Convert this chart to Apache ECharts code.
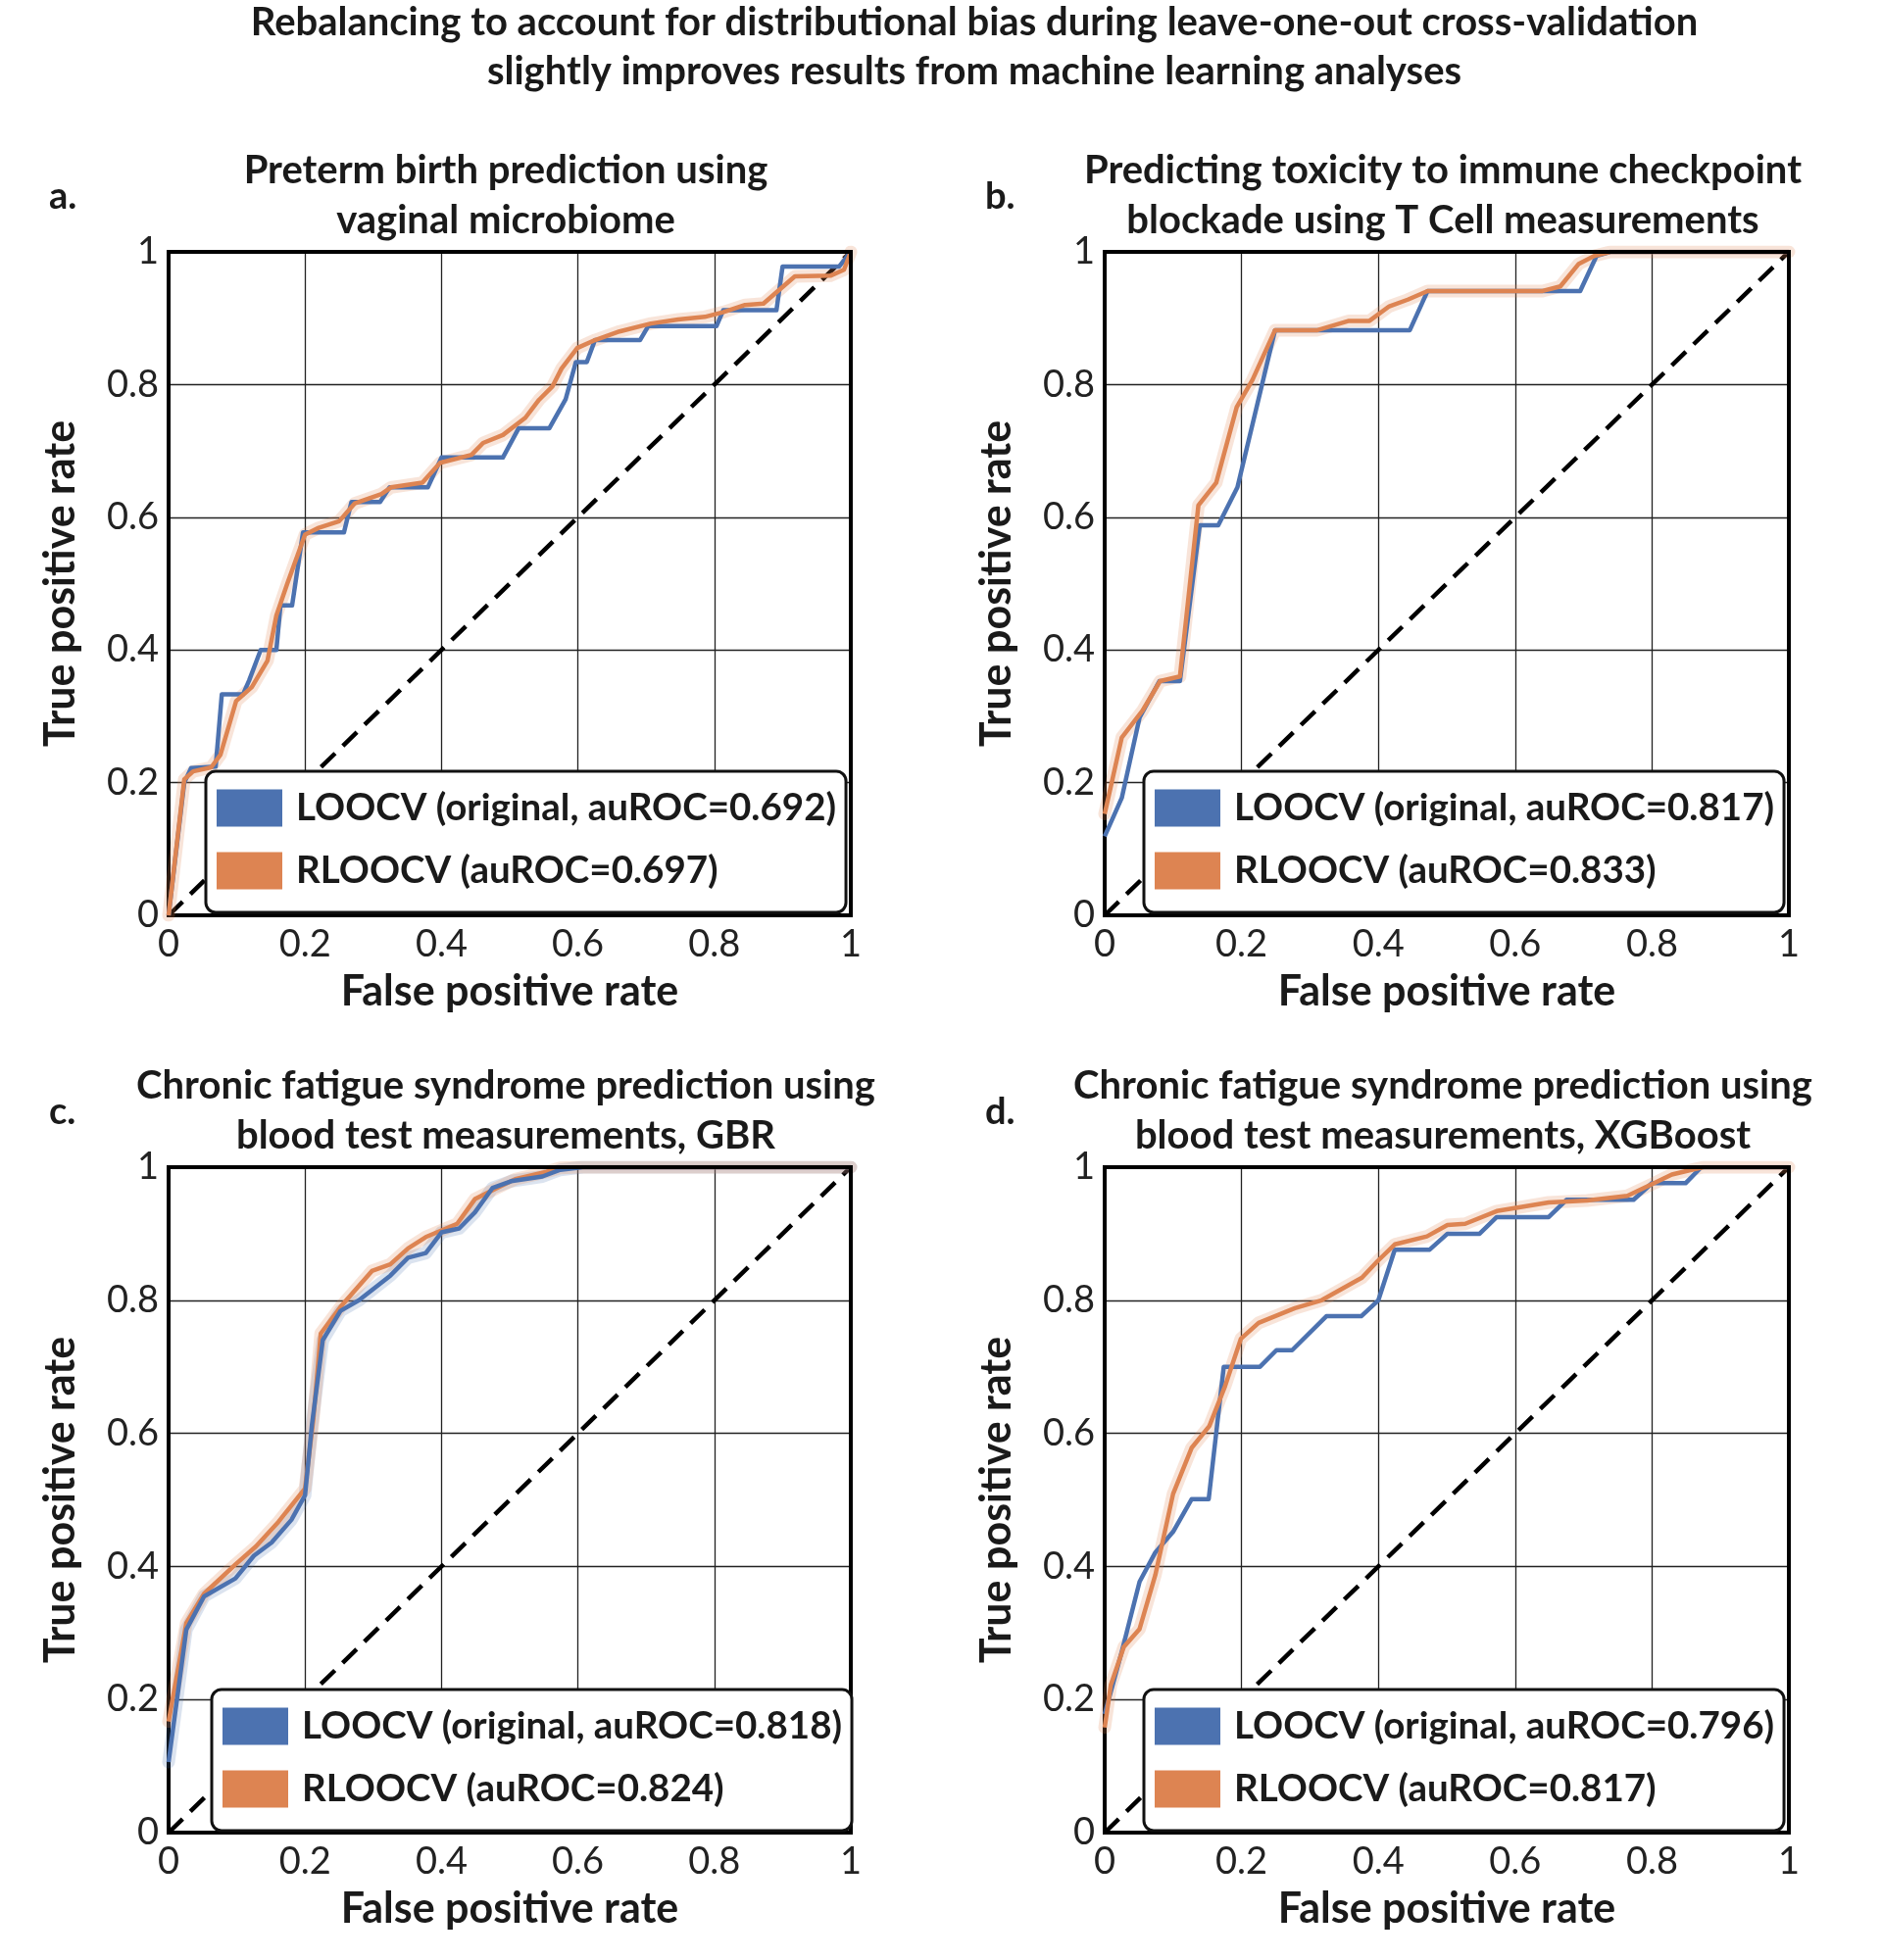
<!DOCTYPE html>
<html><head><meta charset="utf-8">
<script src="https://cdn.jsdelivr.net/npm/echarts/dist/echarts.min.js"></script>
<style>html,body{margin:0;padding:0;background:#fff}#c{width:1919px;height:2000px}</style>
</head><body><div id="c"></div>
<script>
// ---------- data ----------
const tickLabels = ['0', '0.2', '0.4', '0.6', '0.8', '1'];
const diagFpr = [0, 1];
const diagTpr = [0, 1];

const mainTitle = 'Rebalancing to account for distributional bias during leave-one-out cross-validation\nslightly improves results from machine learning analyses';
const panelLetters = ['a.', 'b.', 'c.', 'd.'];
const panelTitles = [
  'Preterm birth prediction using\nvaginal microbiome',
  'Predicting toxicity to immune checkpoint\nblockade using T Cell measurements',
  'Chronic fatigue syndrome prediction using\nblood test measurements, GBR',
  'Chronic fatigue syndrome prediction using\nblood test measurements, XGBoost'
];
const looNames = ['LOOCV (original, auROC=0.692)', 'LOOCV (original, auROC=0.817)', 'LOOCV (original, auROC=0.818)', 'LOOCV (original, auROC=0.796)'];
const rlooNames = ['RLOOCV (auROC=0.697)', 'RLOOCV (auROC=0.833)', 'RLOOCV (auROC=0.824)', 'RLOOCV (auROC=0.817)'];

// Panel a
const aLooFpr = [0, 0.023, 0.033, 0.069, 0.078, 0.109, 0.118, 0.135, 0.158, 0.164, 0.181, 0.197, 0.257, 0.268, 0.31, 0.324, 0.38, 0.4, 0.49, 0.513, 0.558, 0.582, 0.597, 0.613, 0.625, 0.691, 0.703, 0.803, 0.813, 0.891, 0.9, 0.983, 1];
const aLooTpr = [0, 0.2, 0.222, 0.224, 0.333, 0.333, 0.354, 0.4, 0.4, 0.467, 0.467, 0.577, 0.577, 0.623, 0.623, 0.645, 0.645, 0.69, 0.69, 0.734, 0.734, 0.778, 0.834, 0.834, 0.867, 0.867, 0.888, 0.888, 0.912, 0.912, 0.978, 0.978, 1];
const aRlooFpr = [0, 0.023, 0.036, 0.0625, 0.076, 0.099, 0.122, 0.145, 0.158, 0.174, 0.2, 0.22, 0.25, 0.273, 0.312, 0.326, 0.372, 0.398, 0.444, 0.461, 0.49, 0.523, 0.543, 0.5625, 0.576, 0.599, 0.625, 0.661, 0.707, 0.747, 0.786, 0.8125, 0.845, 0.872, 0.891, 0.918, 0.97, 0.99, 1];
const aRlooTpr = [0, 0.205, 0.217, 0.223, 0.242, 0.323, 0.344, 0.384, 0.452, 0.5, 0.574, 0.584, 0.594, 0.621, 0.635, 0.645, 0.652, 0.682, 0.694, 0.712, 0.724, 0.75, 0.777, 0.797, 0.824, 0.855, 0.867, 0.88, 0.892, 0.898, 0.902, 0.909, 0.92, 0.922, 0.939, 0.963, 0.964, 0.973, 1];

// Panel b
const bLooFpr = [0, 0.025, 0.051, 0.08, 0.11, 0.139, 0.166, 0.194, 0.249, 0.446, 0.472, 0.695, 0.719, 0.739, 1];
const bLooTpr = [0.119, 0.177, 0.298, 0.353, 0.353, 0.588, 0.588, 0.645, 0.882, 0.882, 0.941, 0.941, 0.994, 1, 1];
const bRlooFpr = [0, 0.025, 0.055, 0.081, 0.11, 0.137, 0.163, 0.193, 0.216, 0.249, 0.311, 0.357, 0.387, 0.416, 0.443, 0.472, 0.64, 0.666, 0.693, 0.716, 0.739, 1];
const bRlooTpr = [0.153, 0.268, 0.308, 0.353, 0.36, 0.618, 0.652, 0.766, 0.807, 0.882, 0.882, 0.896, 0.896, 0.918, 0.928, 0.941, 0.941, 0.948, 0.982, 0.994, 1, 1];

// Panel c
const cLooFpr = [0, 0.026, 0.052, 0.098, 0.125, 0.151, 0.18, 0.2, 0.21, 0.226, 0.252, 0.279, 0.325, 0.351, 0.377, 0.4, 0.426, 0.449, 0.475, 0.502, 0.548, 0.574, 0.607, 1];
const cLooTpr = [0.106, 0.305, 0.355, 0.382, 0.416, 0.436, 0.47, 0.507, 0.612, 0.74, 0.784, 0.8, 0.837, 0.864, 0.871, 0.902, 0.908, 0.932, 0.969, 0.979, 0.986, 0.996, 1, 1];
const cRlooFpr = [0, 0.026, 0.052, 0.098, 0.128, 0.161, 0.2, 0.212, 0.223, 0.252, 0.298, 0.325, 0.351, 0.377, 0.423, 0.449, 0.482, 0.508, 0.554, 0.574, 0.6, 1];
const cRlooTpr = [0.167, 0.315, 0.359, 0.403, 0.43, 0.467, 0.517, 0.62, 0.75, 0.79, 0.844, 0.854, 0.878, 0.895, 0.915, 0.952, 0.969, 0.982, 0.993, 0.999, 1, 1];

// Panel d
const dLooFpr = [0, 0.025, 0.051, 0.074, 0.1, 0.127, 0.152, 0.174, 0.227, 0.251, 0.274, 0.324, 0.375, 0.4, 0.424, 0.475, 0.501, 0.548, 0.573, 0.649, 0.675, 0.773, 0.8, 0.849, 0.872, 1];
const dLooTpr = [0.178, 0.272, 0.377, 0.421, 0.452, 0.501, 0.501, 0.7, 0.7, 0.725, 0.725, 0.776, 0.776, 0.8, 0.876, 0.876, 0.9, 0.9, 0.925, 0.925, 0.951, 0.951, 0.976, 0.976, 1, 1];
const dRlooFpr = [0, 0.009, 0.028, 0.051, 0.074, 0.1, 0.127, 0.153, 0.176, 0.199, 0.225, 0.278, 0.317, 0.376, 0.399, 0.424, 0.471, 0.501, 0.527, 0.573, 0.649, 0.705, 0.764, 0.803, 0.829, 0.862, 0.875, 1];
const dRlooTpr = [0.158, 0.222, 0.279, 0.306, 0.387, 0.509, 0.578, 0.611, 0.671, 0.742, 0.766, 0.788, 0.8, 0.834, 0.859, 0.884, 0.896, 0.913, 0.915, 0.934, 0.947, 0.95, 0.957, 0.976, 0.989, 0.997, 1, 1];

// ---------- layout / style ----------
const BLUE = '#4C72B0', ORANGE = '#DD8452';
const FONT = 'Lato';
const TXT = '#1a1a1a';
const layout = [
  {left: 172, top: 257, width: 696, height: 677, legendLeft: 210, legendTop: 787, blueBand: false, blueOnTop: false},
  {left: 1127, top: 257, width: 698, height: 677, legendLeft: 1167, legendTop: 787, blueBand: false, blueOnTop: false},
  {left: 172, top: 1191, width: 696, height: 679, legendLeft: 216, legendTop: 1724, blueBand: true, blueOnTop: true},
  {left: 1127, top: 1191, width: 698, height: 679, legendLeft: 1167, legendTop: 1724, blueBand: false, blueOnTop: false}
];
const panelData = [
  [aLooFpr, aLooTpr, aRlooFpr, aRlooTpr],
  [bLooFpr, bLooTpr, bRlooFpr, bRlooTpr],
  [cLooFpr, cLooTpr, cRlooFpr, cRlooTpr],
  [dLooFpr, dLooTpr, dRlooFpr, dRlooTpr]
];
const zip = (xs, ys) => xs.map((x, i) => [x, ys[i]]);

const grids = [], xAxes = [], yAxes = [], series = [], legends = [], graphics = [];

graphics.push({type: 'text', x: 994, y: 48, style: {text: mainTitle, font: 'bold 40px ' + FONT, fill: TXT, align: 'center', verticalAlign: 'middle', lineHeight: 50}});

layout.forEach((L, i) => {
  grids.push({left: L.left, top: L.top, width: L.width, height: L.height, show: false});
  const cx = L.left + L.width / 2;
  graphics.push({type: 'text', x: cx - 4, y: L.top - 57, style: {text: panelTitles[i], font: 'bold 40px ' + FONT, fill: TXT, align: 'center', verticalAlign: 'middle', lineHeight: 51}});
  graphics.push({type: 'text', x: L.left - 122, y: L.top - 56, style: {text: panelLetters[i], font: 'bold 38px ' + FONT, fill: TXT, align: 'left', verticalAlign: 'middle'}});

  const borderLine = {show: true, onZero: false, lineStyle: {color: '#000', width: 4, cap: 'square'}};
  xAxes.push({
    gridIndex: i, type: 'value', min: 0, max: 1, interval: 0.2, position: 'bottom',
    axisLine: borderLine, axisTick: {show: false},
    splitLine: {show: true, lineStyle: {color: '#222', width: 1.3}},
    axisLabel: {fontSize: 38, fontFamily: FONT, color: '#222', margin: 11, formatter: v => tickLabels[Math.round(v * 5)]},
    name: 'False positive rate', nameLocation: 'middle', nameGap: 57,
    nameTextStyle: {fontSize: 43, fontWeight: 'bold', fontFamily: FONT, color: TXT}
  });
  xAxes.push({
    gridIndex: i, type: 'value', min: 0, max: 1, interval: 0.2, position: 'top', z: 5,
    axisLine: borderLine, axisTick: {show: false}, axisLabel: {show: false}, splitLine: {show: false}
  });
  yAxes.push({
    gridIndex: i, type: 'value', min: 0, max: 1, interval: 0.2, position: 'left',
    axisLine: borderLine, axisTick: {show: false},
    splitLine: {show: true, lineStyle: {color: '#222', width: 1.3}},
    axisLabel: {fontSize: 38, fontFamily: FONT, color: '#222', margin: 10, formatter: v => tickLabels[Math.round(v * 5)]},
    name: 'True positive rate', nameLocation: 'middle', nameGap: 88,
    nameTextStyle: {fontSize: 43, fontWeight: 'bold', fontFamily: FONT, color: TXT}
  });
  yAxes.push({
    gridIndex: i, type: 'value', min: 0, max: 1, interval: 0.2, position: 'right', z: 5,
    axisLine: borderLine, axisTick: {show: false}, axisLabel: {show: false}, splitLine: {show: false}
  });

  const xi = 2 * i, yi = 2 * i;
  const [lf, lt, rf, rt] = panelData[i];
  series.push({
    type: 'line', name: 'diag' + i, xAxisIndex: xi, yAxisIndex: yi, data: zip(diagFpr, diagTpr),
    symbol: 'none', silent: true, z: 1,
    lineStyle: {color: '#000', width: 4.5, type: [20, 11]}
  });
  if (L.blueBand) {
    series.push({
      type: 'line', name: 'looBand' + i, xAxisIndex: xi, yAxisIndex: yi, data: zip(lf, lt),
      symbol: 'none', silent: true, z: 1,
      lineStyle: {color: BLUE, width: 13, opacity: 0.2, join: 'round', cap: 'round'}
    });
  }
  series.push({
    type: 'line', name: 'rlooBand' + i, xAxisIndex: xi, yAxisIndex: yi, data: zip(rf, rt),
    symbol: 'none', silent: true, z: 1,
    lineStyle: {color: ORANGE, width: 13, opacity: 0.22, join: 'round', cap: 'round'}
  });
  const loo = {
    type: 'line', name: looNames[i], xAxisIndex: xi, yAxisIndex: yi, data: zip(lf, lt),
    symbol: 'none', z: L.blueOnTop ? 3 : 2, color: BLUE, itemStyle: {color: BLUE},
    lineStyle: {color: BLUE, width: 4.5, join: 'round'}
  };
  const rloo = {
    type: 'line', name: rlooNames[i], xAxisIndex: xi, yAxisIndex: yi, data: zip(rf, rt),
    symbol: 'none', z: L.blueOnTop ? 2 : 3, color: ORANGE, itemStyle: {color: ORANGE},
    lineStyle: {color: ORANGE, width: 4.5, join: 'round'}
  };
  series.push(loo, rloo);

  legends.push({
    data: [looNames[i], rlooNames[i]], left: L.legendLeft, top: L.legendTop, orient: 'vertical',
    icon: 'rect', itemWidth: 67, itemHeight: 38, itemGap: 25,
    padding: [18, 10, 23, 11], borderColor: '#111', borderWidth: 3, borderRadius: 10,
    backgroundColor: '#fff', selectedMode: false, z: 6,
    itemStyle: {borderWidth: 0},
    textStyle: {fontSize: 38.5, fontWeight: 'bold', fontFamily: FONT, color: TXT, padding: [0, 0, 0, 9]}
  });
});

const chart = echarts.init(document.getElementById('c'), null, {renderer: 'canvas'});
chart.setOption({
  animation: false,
  backgroundColor: '#fff',
  grid: grids, xAxis: xAxes, yAxis: yAxes, series: series, legend: legends,
  graphic: graphics
});
</script></body></html>
